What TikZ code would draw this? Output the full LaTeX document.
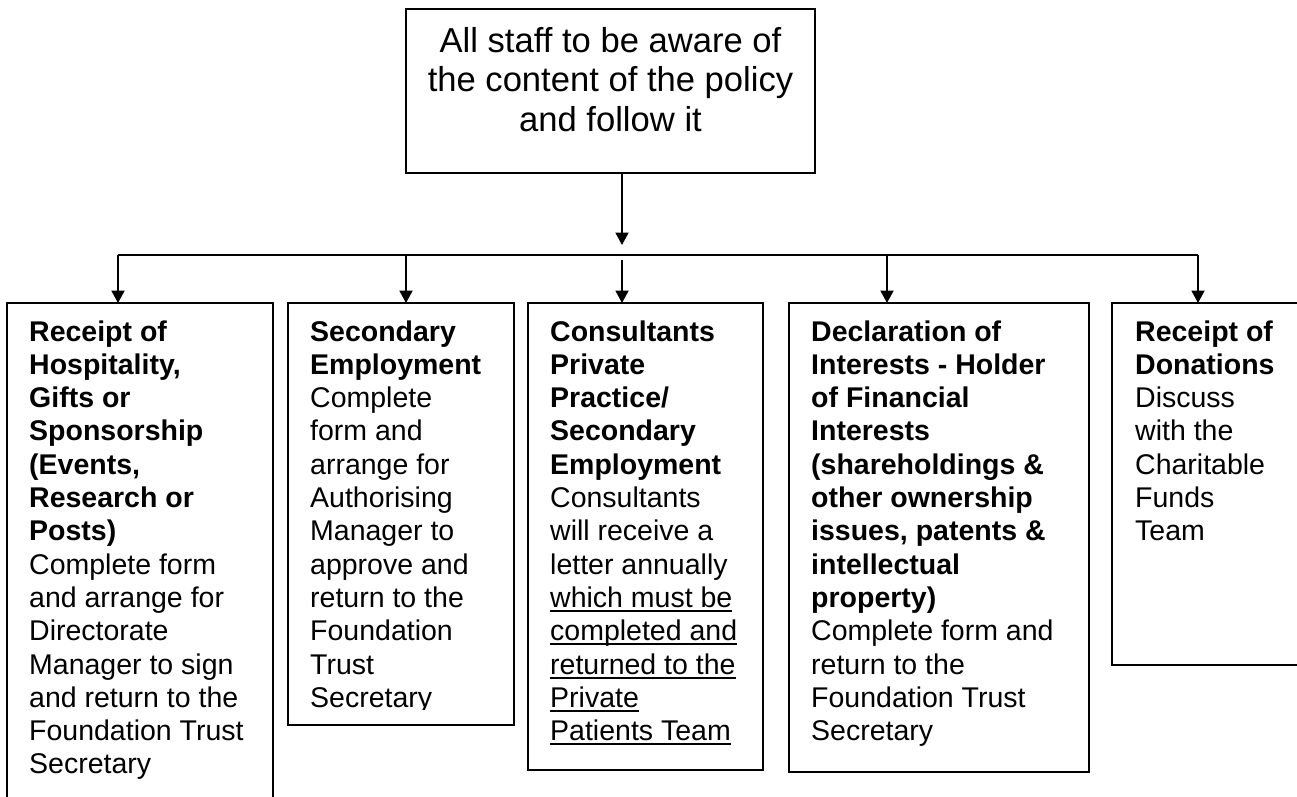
\documentclass[tikz,border=0pt]{standalone}
\usepackage{fontspec}
\setmainfont{Liberation Sans}
\usetikzlibrary{arrows.meta}
% underline drawn at a fixed depth below the baseline
\newcommand\undl[1]{\setbox0\hbox{#1}\rlap{\rule[-4.5pt]{\wd0}{1.8pt}}\box0}
\begin{document}
\begin{tikzpicture}[x=1pt,y=-1pt,
  panel/.style={draw, line width=2.4pt, anchor=north west, inner sep=0pt, outer sep=0pt},
  headbox/.style={draw, line width=1.6pt, anchor=north west, inner sep=0pt, outer sep=0pt},
  body/.style={anchor=base west, inner sep=0pt, font=\fontsize{28.5}{33.3}\selectfont},
  headtext/.style={anchor=base, inner sep=0pt, font=\fontsize{34.6}{39.7}\selectfont},
  bus/.style={line width=2pt},
  conn/.style={line width=2pt, -{Triangle[length=12.5pt,width=13pt]}}]

\fill[white] (0,0) rectangle (1297,796);
\useasboundingbox (0,0) rectangle (1297,796);

% top statement
\node[headbox, minimum width=409pt, minimum height=164pt] (top) at (406,9) {};
\node[headtext] (toptext) at (610.5,52) {\begin{tabular}[t]{@{}c@{}}
All staff to be aware of\\
the content of the policy\\
and follow it\end{tabular}};

% the five areas of the policy
\node[panel, minimum width=266pt, minimum height=520pt] (b1) at (7,303) {};
\node[panel, minimum width=226pt, minimum height=422pt] (b2) at (288,303) {};
\node[panel, minimum width=235pt, minimum height=467pt] (b3) at (528,303) {};
\node[panel, minimum width=300pt, minimum height=469pt] (b4) at (789,303) {};
\node[panel, minimum width=220pt, minimum height=362pt] (b5) at (1112,303) {};

\node[body] (t1) at (29,341) {\begin{tabular}[t]{@{}l@{}}
\textbf{Receipt of}\\
\textbf{Hospitality,}\\
\textbf{Gifts or}\\
\textbf{Sponsorship}\\
\textbf{(Events,}\\
\textbf{Research or}\\
\textbf{Posts)}\\
Complete form\\
and arrange for\\
Directorate\\
Manager to sign\\
and return to the\\
Foundation Trust\\
Secretary\end{tabular}};

% the last line of this panel is cut short by its text frame
\begin{scope}
\clip (288,303) rectangle (514,709);
\node[body] (t2) at (310,341) {\begin{tabular}[t]{@{}l@{}}
\textbf{Secondary}\\
\textbf{Employment}\\
Complete\\
form and\\
arrange for\\
Authorising\\
Manager to\\
approve and\\
return to the\\
Foundation\\
Trust\\
Secretary\end{tabular}};
\end{scope}

\node[body] (t3) at (550,341) {\begin{tabular}[t]{@{}l@{}}
\textbf{Consultants}\\
\textbf{Private}\\
\textbf{Practice/}\\
\textbf{Secondary}\\
\textbf{Employment}\\
Consultants\\
will receive a\\
letter annually\\
\undl{which must be}\\
\undl{completed and}\\
\undl{returned to the}\\
\undl{Private}\\
\undl{Patients Team}\end{tabular}};

\node[body] (t4) at (811,341) {\begin{tabular}[t]{@{}l@{}}
\textbf{Declaration of}\\
\textbf{Interests - Holder}\\
\textbf{of Financial}\\
\textbf{Interests}\\
\textbf{(shareholdings \&}\\
\textbf{other ownership}\\
\textbf{issues, patents \&}\\
\textbf{intellectual}\\
\textbf{property)}\\
Complete form and\\
return to the\\
Foundation Trust\\
Secretary\end{tabular}};

\node[body] (t5) at (1135,341) {\begin{tabular}[t]{@{}l@{}}
\textbf{Receipt of}\\
\textbf{Donations}\\
Discuss\\
with the\\
Charitable\\
Funds\\
Team\end{tabular}};

% connectors
\coordinate (drop) at (622,245);
\coordinate (a1) at (118,255);
\coordinate (a2) at (406,255);
\coordinate (a3) at (622,260);
\coordinate (a4) at (887,255);
\coordinate (a5) at (1198,255);

\draw[conn] (top.south -| drop) -- (drop);
\draw[bus] (a1) -- (a5);
\draw[conn] (a1) -- (a1 |- b1.north);
\draw[conn] (a2) -- (a2 |- b2.north);
\draw[conn] (a3) -- (a3 |- b3.north);
\draw[conn] (a4) -- (a4 |- b4.north);
\draw[conn] (a5) -- (a5 |- b5.north);
\end{tikzpicture}
\end{document}
